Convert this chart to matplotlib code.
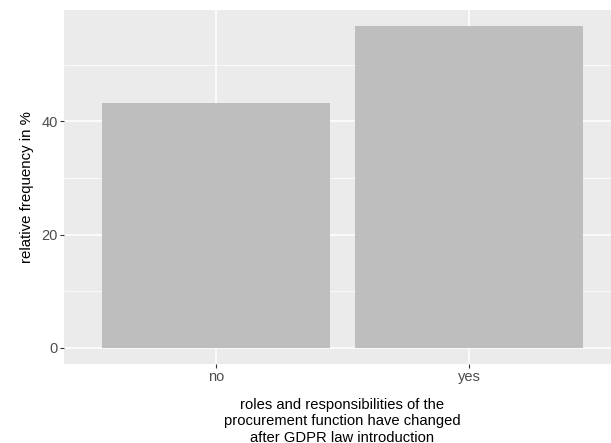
import matplotlib
matplotlib.use("Agg")
import matplotlib.pyplot as plt
import numpy as np

categories = ["no", "yes"]
values = [43.2, 56.8]
yticks = [0, 20, 40]
yminor = [10, 30, 50]

plt.rcParams['font.family'] = ['Liberation Sans', 'DejaVu Sans']

W, H = 611, 443
fig = plt.figure(figsize=(W / 100, H / 100), dpi=100)
# panel runs past the right edge in the reference
left, right, top, bottom = 64, 621, 10, 364
ax = fig.add_axes([left / W, 1 - bottom / H, (right - left) / W, (bottom - top) / H])
ax.set_facecolor("#EBEBEB")

x = np.arange(1, len(categories) + 1)
ax.bar(x, values, width=0.9, color="#BEBEBE", zorder=3)

ax.set_xlim(0.4, 2.6)
ax.set_ylim(-0.05 * max(values), 1.05 * max(values))
ax.set_xticks(x)
ax.set_xticklabels(categories)
ax.set_yticks(yticks)
ax.set_yticks(yminor, minor=True)

ax.grid(True, which="major", color="white", linewidth=1.1, zorder=1)
ax.grid(True, which="minor", axis="y", color="white", linewidth=0.55, zorder=1)
ax.tick_params(axis="both", which="major", length=3, width=0.8, color="#333333",
               labelcolor="#4D4D4D", labelsize=10.5, pad=1.5)
ax.tick_params(axis="y", which="minor", length=0)
for s in ax.spines.values():
    s.set_visible(False)

ax.set_ylabel("relative frequency in %", fontsize=10.8, color="black", labelpad=5)
ax.set_xlabel("roles and responsibilities of the\nprocurement function have changed\nafter GDPR law introduction",
              fontsize=10.6, color="black", labelpad=10, linespacing=1.2)

fig.savefig("out.png", dpi=100)
